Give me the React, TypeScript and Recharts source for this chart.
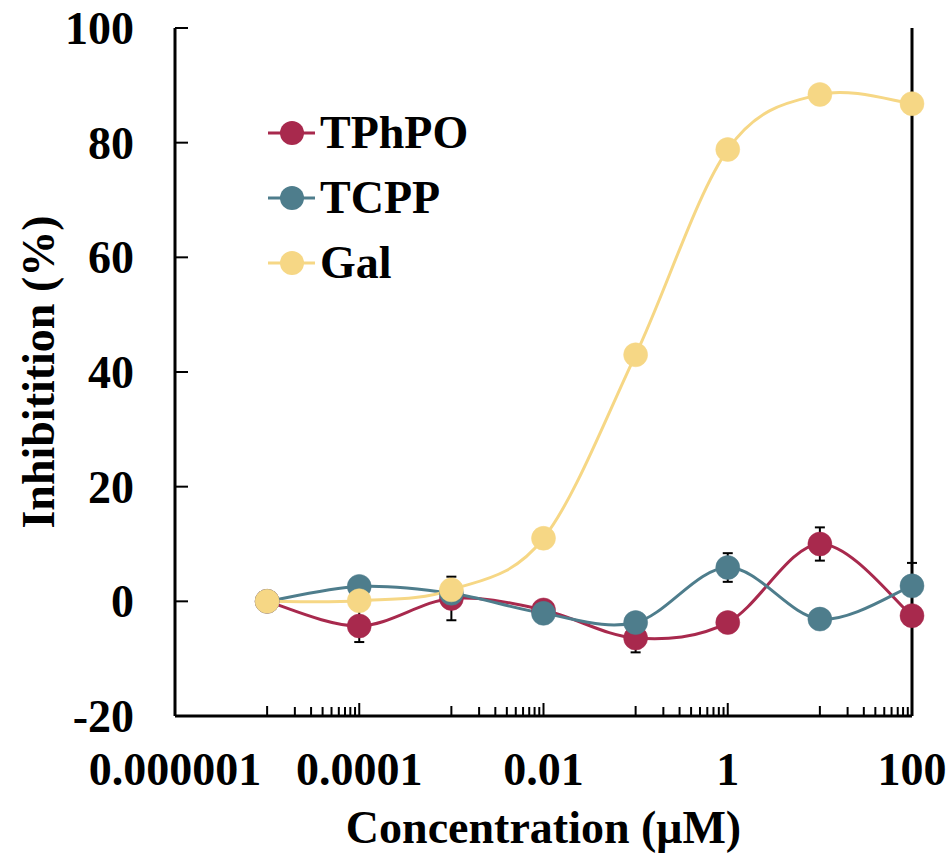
import React from 'react';
import { ComposedChart, Line, XAxis, YAxis, ErrorBar, Legend } from 'recharts';

// ---- data ----
const concentrations = [1e-5, 1e-4, 1e-3, 0.01, 0.1, 1, 10, 100];
const tphpo = [0, -4.3, 0.5, -1.5, -6.4, -3.7, 10.0, -2.5];
const tphpoErr = [0, 2.8, 3.8, 0, 2.5, 0, 2.9, 0];
const tcpp = [0, 2.6, 1.4, -2.1, -3.7, 5.9, -3.1, 2.7];
const tcppErr = [0, 0, 0, 0, 0, 2.5, 0, 4.0];
const gal = [0, 0.1, 2.0, 11.0, 43.0, 78.8, 88.4, 86.8];
const galErr = [0, 0, 0, 0, 0, 0, 0, 0];

const seriesNames = ['TPhPO', 'TCPP', 'Gal'];
const seriesKeys = ['tphpo', 'tcpp', 'gal'];
const seriesColors = ['#A8294D', '#4E7D8C', '#F6D785'];

const xMajorTicks = [1e-6, 1e-4, 0.01, 1, 100];
const xTickLabels = ['0.000001', '0.0001', '0.01', '1', '100'];
const xMinorDecades = [1e-5, 1e-3, 0.1, 10];
const xMinorMultipliers = [1, 2, 3, 4, 5, 6, 7, 8, 9];
const yTicks = [-20, 0, 20, 40, 60, 80, 100];

const data = concentrations.map((x, i) => ({
  x,
  tphpo: tphpo[i],
  tphpoErr: tphpoErr[i],
  tcpp: tcpp[i],
  tcppErr: tcppErr[i],
  gal: gal[i],
  galErr: galErr[i],
}));

const minorTicks: number[] = [];
xMinorDecades.forEach((d) => xMinorMultipliers.forEach((m) => minorTicks.push(+(d * m).toPrecision(6))));
const allXTicks = [...xMajorTicks, ...minorTicks.filter((t) => !xMajorTicks.includes(t))];

const FONT = "'Liberation Serif', 'Times New Roman', Times, serif";

// Excel-like smooth curve (Catmull-Rom through points)
function smoothCurve(context: any) {
  let pts: [number, number][] = [];
  return {
    areaStart() {},
    areaEnd() {},
    lineStart() {
      pts = [];
    },
    point(x: number, y: number) {
      pts.push([+x, +y]);
    },
    lineEnd() {
      if (!pts.length) return;
      context.moveTo(pts[0][0], pts[0][1]);
      for (let i = 0; i < pts.length - 1; i++) {
        const p0 = pts[i - 1] || pts[i];
        const p1 = pts[i];
        const p2 = pts[i + 1];
        const p3 = pts[i + 2] || p2;
        context.bezierCurveTo(
          p1[0] + (p2[0] - p0[0]) / 6,
          p1[1] + (p2[1] - p0[1]) / 6,
          p2[0] - (p3[0] - p1[0]) / 6,
          p2[1] - (p3[1] - p1[1]) / 6,
          p2[0],
          p2[1]
        );
      }
    },
  };
}

const XTick = (props: any) => {
  const { x, y, payload } = props;
  const v = payload.value;
  const majorIdx = xMajorTicks.findIndex((t) => Math.abs(Math.log10(t) - Math.log10(v)) < 1e-6);
  const isMajor = majorIdx >= 0;
  const isDecade = Math.abs(Math.log10(v) - Math.round(Math.log10(v))) < 1e-6;
  const len = isMajor ? 13 : isDecade ? 10 : 9;
  return (
    <g>
      <line x1={x} x2={x} y1={y} y2={y - len} stroke="#000" strokeWidth={2} />
      {isMajor && (
        <text x={x} y={y + 69} textAnchor="middle" fontFamily={FONT} fontWeight="bold" fontSize={46} fill="#000">
          {xTickLabels[majorIdx]}
        </text>
      )}
    </g>
  );
};

const YTick = (props: any) => {
  const { x, y, payload } = props;
  return (
    <g>
      <line x1={x} x2={x + 13} y1={y} y2={y} stroke="#000" strokeWidth={2} />
      <text x={x - 41} y={y + 16} textAnchor="end" fontFamily={FONT} fontWeight="bold" fontSize={46} fill="#000">
        {payload.value}
      </text>
    </g>
  );
};

const YTitle = (props: any) => {
  const vb = props.viewBox;
  const cx = vb.x + 38;
  const cy = vb.y + vb.height / 2;
  return (
    <text
      x={cx}
      y={cy}
      transform={`rotate(-90 ${cx} ${cy})`}
      textAnchor="middle"
      dominantBaseline="central"
      fontFamily={FONT}
      fontWeight="bold"
      fontSize={46}
      fill="#000"
    >
      Inhibitition (%)
    </text>
  );
};

const XTitle = (props: any) => {
  const vb = props.viewBox;
  return (
    <text
      x={vb.x + vb.width / 2}
      y={vb.y + 127}
      textAnchor="middle"
      fontFamily={FONT}
      fontWeight="bold"
      fontSize={46}
      fill="#000"
    >
      Concentration (μM)
    </text>
  );
};

const LegendContent = () => (
  <svg width={220} height={200} style={{ overflow: 'visible', display: 'block' }}>
    {seriesNames.map((name, i) => (
      <g key={name} transform={`translate(0 ${i * 65})`}>
        <line x1={0} x2={47} y1={23} y2={23} stroke={seriesColors[i]} strokeWidth={3} />
        <circle cx={24} cy={23} r={12} fill={seriesColors[i]} />
        <text x={52} y={38} fontFamily={FONT} fontWeight="bold" fontSize={46} fill="#000">
          {name}
        </text>
      </g>
    ))}
  </svg>
);

export default function App() {
  return (
    <div style={{ position: 'absolute', left: 0, top: 0 }}>
      <ComposedChart width={952} height={863} data={data} margin={{ top: 28, right: 39, bottom: 0, left: 0 }}>
        <XAxis
          dataKey="x"
          type="number"
          scale="log"
          domain={[1e-6, 100]}
          ticks={allXTicks}
          interval={0}
          tick={<XTick />}
          tickLine={false}
          tickSize={0}
          tickMargin={0}
          axisLine={{ stroke: '#000', strokeWidth: 3 }}
          height={147}
          label={{ content: XTitle }}
        />
        <YAxis
          yAxisId="left"
          type="number"
          domain={[-20, 100]}
          ticks={yTicks}
          interval={0}
          tick={<YTick />}
          tickLine={false}
          tickSize={0}
          tickMargin={0}
          axisLine={{ stroke: '#000', strokeWidth: 3 }}
          width={175}
          label={{ content: YTitle }}
        />
        <YAxis
          yAxisId="right"
          orientation="right"
          type="number"
          domain={[-20, 100]}
          ticks={yTicks}
          tick={false}
          tickLine={false}
          axisLine={{ stroke: '#000', strokeWidth: 3 }}
          width={1}
        />
        <Legend
          layout="vertical"
          align="center"
          verticalAlign="middle"
          content={<LegendContent />}
          wrapperStyle={{ left: 268, top: 110, width: 220, height: 200 }}
        />
        {seriesKeys.map((k) => (
          <Line
            key={`${k}-err`}
            yAxisId="right"
            dataKey={k}
            stroke="none"
            dot={false}
            activeDot={false}
            legendType="none"
            isAnimationActive={false}
          >
            <ErrorBar dataKey={`${k}Err`} width={5} stroke="#000" strokeWidth={2} direction="y" />
          </Line>
        ))}
        {seriesKeys.map((k, i) => (
          <Line
            key={k}
            yAxisId="left"
            dataKey={k}
            name={seriesNames[i]}
            type={smoothCurve as any}
            stroke={seriesColors[i]}
            strokeWidth={3}
            dot={{ r: 12, fill: seriesColors[i], stroke: seriesColors[i], strokeWidth: 0.5 }}
            activeDot={false}
            isAnimationActive={false}
          />
        ))}
      </ComposedChart>
    </div>
  );
}
